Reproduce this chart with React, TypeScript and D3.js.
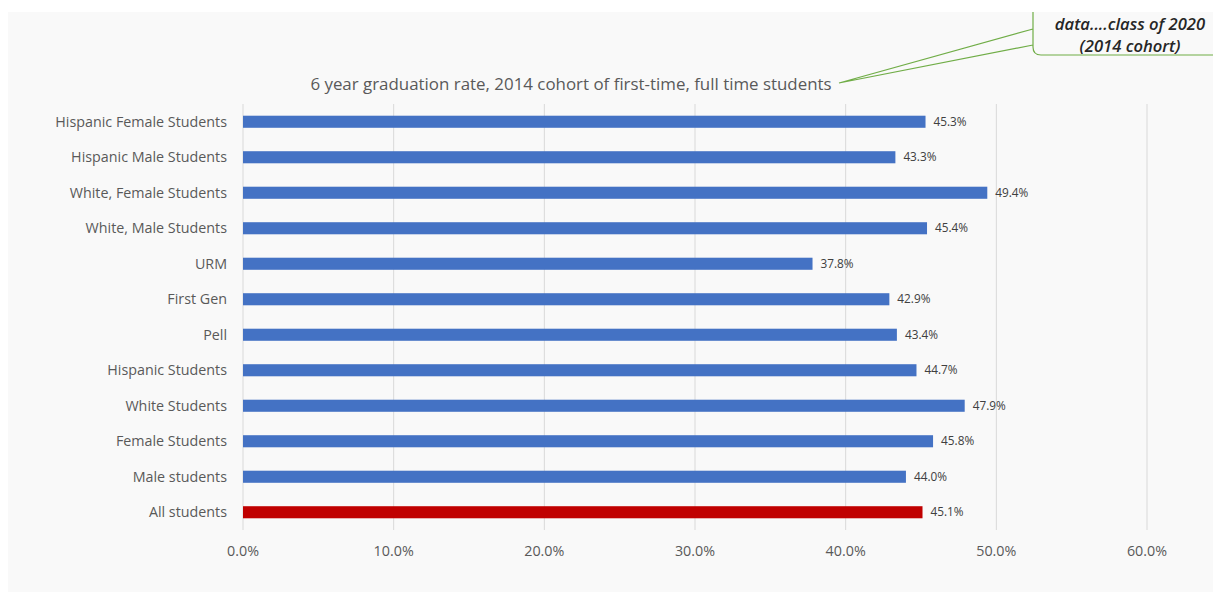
import React from "react";
import * as d3 from "d3";

const categories = [
  "Hispanic Female Students",
  "Hispanic Male Students",
  "White, Female Students",
  "White, Male Students",
  "URM",
  "First Gen",
  "Pell",
  "Hispanic Students",
  "White Students",
  "Female Students",
  "Male students",
  "All students",
];
const values = [0.453, 0.433, 0.494, 0.454, 0.378, 0.429, 0.434, 0.447, 0.479, 0.458, 0.44, 0.451];
const ticks = [0, 0.1, 0.2, 0.3, 0.4, 0.5, 0.6];
const title = "6 year graduation rate, 2014 cohort of first-time, full time students";
const calloutLines = ["data....class of 2020", "(2014 cohort)"];

const W = 1213;
const H = 592;
const FONT = "'Open Sans', 'Noto Sans', sans-serif";

export default function App() {
  const x = d3.scaleLinear().domain([0, 0.6]).range([243, 1147]);
  const y = d3.scaleBand().domain(categories).range([104, 530]).paddingInner(0.66).paddingOuter(0.33);
  const fmt = d3.format(".1%");
  const text = "#595959";

  return (
    <svg
      width={W}
      height={H}
      style={{ position: "absolute", left: 0, top: 0, background: "#ffffff" }}
      fontFamily={FONT}
    >
      <rect x={8} y={12} width={W - 8} height={H - 12} fill="#f9f9f9" />

      {/* grid */}
      {ticks.map((t) => (
        <line key={t} x1={x(t)} x2={x(t)} y1={104} y2={530} stroke="#d9d9d9" strokeWidth={1} />
      ))}

      {/* bars */}
      {categories.map((c, i) => (
        <g key={c}>
          <rect
            x={x(0)}
            y={y(c)!}
            width={x(values[i]) - x(0)}
            height={y.bandwidth()}
            fill={c === "All students" ? "#c00000" : "#4472c4"}
          />
          <text
            x={227}
            y={y(c)! + y.bandwidth() / 2}
            dy="0.35em"
            textAnchor="end"
            fontSize={14.3}
            fill={text}
          >
            {c}
          </text>
          <text
            x={x(values[i]) + 8}
            y={y(c)! + y.bandwidth() / 2}
            dy="0.35em"
            fontSize={11.8}
            fill="#404040"
          >
            {fmt(values[i])}
          </text>
        </g>
      ))}

      {/* x tick labels */}
      {ticks.map((t) => (
        <text key={t} x={x(t)} y={551} dy="0.35em" textAnchor="middle" fontSize={14.3} fill={text}>
          {fmt(t)}
        </text>
      ))}

      {/* title */}
      <text x={571} y={84} dy="0.35em" textAnchor="middle" fontSize={16.9} fill={text}>
        {title}
      </text>

      {/* callout */}
      <path
        d={`M839,83 L1033,29 M839,83 L1033,45 M1033,12 L1033,47 Q1033,55 1041,55 L${W},55`}
        fill="none"
        stroke="#70ad47"
        strokeWidth={1.2}
      />
      {calloutLines.map((l, i) => (
        <text
          key={l}
          x={1130}
          y={24 + i * 22}
          dy="0.35em"
          textAnchor="middle"
          fontSize={16.6}
          fontStyle="italic"
          fontWeight={600}
          fill="#262626"
        >
          {l}
        </text>
      ))}
    </svg>
  );
}
